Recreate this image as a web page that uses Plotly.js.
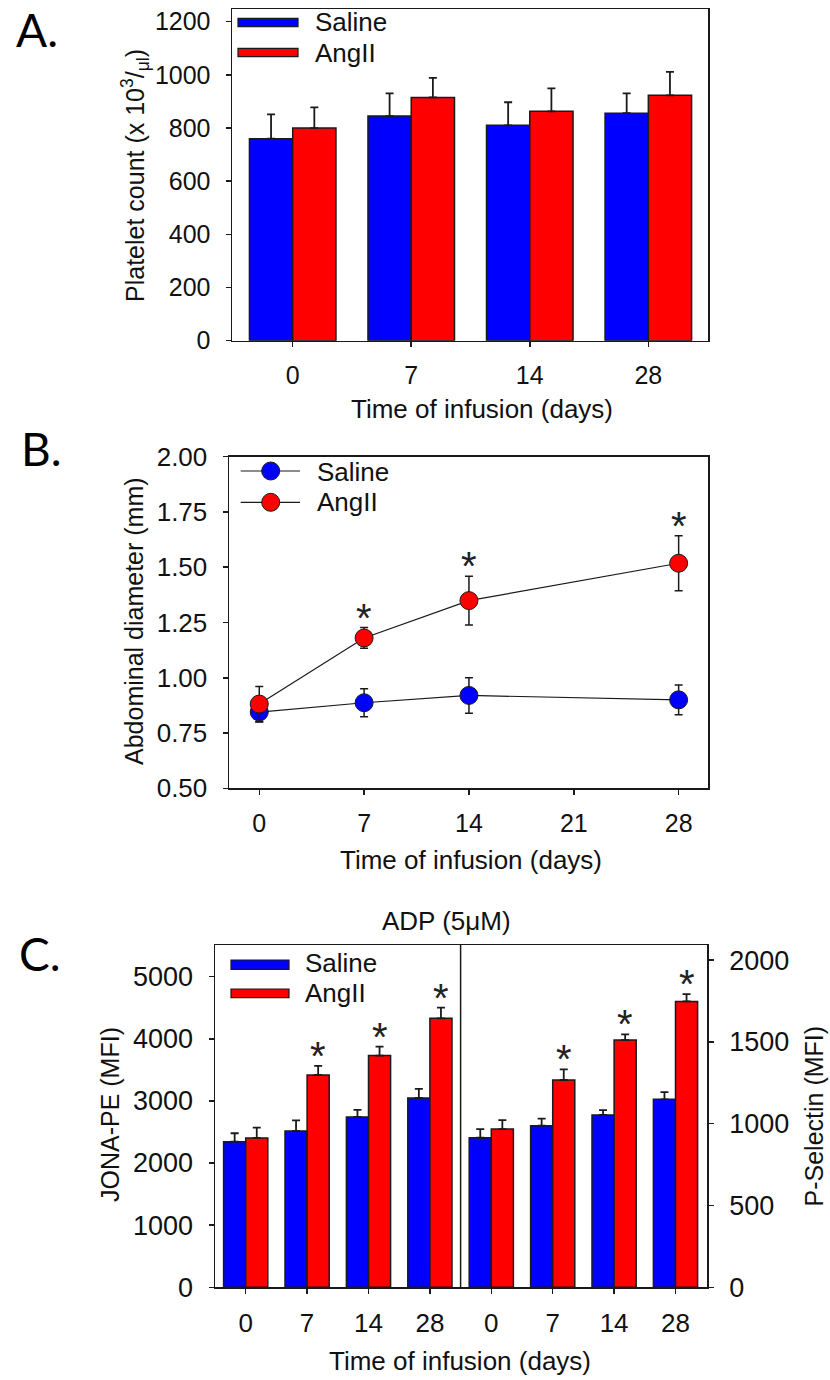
<!DOCTYPE html>
<html>
<head>
<meta charset="utf-8">
<script src="https://cdn.plot.ly/plotly-3.0.1.min.js"></script>
<style>html,body{margin:0;padding:0;background:#fff;}#chart{width:830px;height:1380px;}</style>
</head>
<body>
<div id="chart"></div>
<script>
// ---------- Data ----------
// Panel A: platelet count
const daysA = ['0', '7', '14', '28'];
const salineA = [760, 845, 810, 856];
const salineAErr = [91, 85, 87, 74];
const angA = [800, 915, 863, 923];
const angAErr = [78, 74, 86, 88];

// Panel B: abdominal diameter
const daysB = [0, 7, 14, 28];
const salineB = [0.845, 0.887, 0.92, 0.90];
const salineBErr = [0.045, 0.063, 0.08, 0.067];
const angB = [0.881, 1.18, 1.349, 1.518];
const angBErr = [0.08, 0.047, 0.11, 0.124];
const sigB = [false, true, true, true];
const ticksB = [0, 7, 14, 21, 28];

// Panel C: ADP (5uM) activation
const daysC = ['0', '7', '14', '28'];
const jonaSaline = [2344, 2516, 2741, 3048];
const jonaSalineErr = [135, 172, 113, 145];
const jonaAng = [2404, 3418, 3729, 4329];
const jonaAngErr = [166, 145, 145, 172];
const pselSaline = [914, 988, 1053, 1149];
const pselSalineErr = [53, 43, 30, 44];
const pselAng = [967, 1267, 1511, 1747];
const pselAngErr = [55, 65, 35, 45];
const sigJona = [false, true, true, true];
const sigPsel = [false, true, true, true];

// ---------- helpers ----------
const W = 830, H = 1380;
const px = v => v / W;
const py = v => 1 - v / H;
const FONT = 'Liberation Sans, Arial, sans-serif';
const BLUE = '#0000FF', RED = '#FF0000', INK = '#1a1a1a';
const zeros = a => a.map(() => 0);

const idxA = daysA.map((_, i) => i);
const idxCL = daysC.map((_, i) => i);
const idxCR = daysC.map((_, i) => i + daysC.length);

function barTrace(x, y, err, color, w, off, xa, ya) {
  return {
    type: 'bar', x: x, y: y, width: w, offset: off,
    xaxis: xa, yaxis: ya, showlegend: false, hoverinfo: 'skip',
    marker: {color: color, line: {color: INK, width: 1.5}},
    error_y: {type: 'data', array: err, arrayminus: zeros(err), symmetric: false,
              color: INK, thickness: 1.8, width: 4}
  };
}

const wA = 0.365, wC = 0.36;
const traces = [
  barTrace(idxA, salineA, salineAErr, BLUE, wA, -wA, 'x', 'y'),
  barTrace(idxA, angA, angAErr, RED, wA, 0, 'x', 'y'),
  {
    type: 'scatter', mode: 'lines+markers', x: daysB, y: salineB, xaxis: 'x2', yaxis: 'y2',
    showlegend: false, hoverinfo: 'skip',
    line: {color: INK, width: 1.2},
    marker: {color: BLUE, size: 18, line: {color: INK, width: 1}},
    error_y: {type: 'data', array: salineBErr, color: INK, thickness: 1.5, width: 4}
  },
  {
    type: 'scatter', mode: 'lines+markers', x: daysB, y: angB, xaxis: 'x2', yaxis: 'y2',
    showlegend: false, hoverinfo: 'skip',
    line: {color: INK, width: 1.2},
    marker: {color: RED, size: 18, line: {color: INK, width: 1}},
    error_y: {type: 'data', array: angBErr, color: INK, thickness: 1.5, width: 4}
  },
  barTrace(idxCL, jonaSaline, jonaSalineErr, BLUE, wC, -wC, 'x3', 'y3'),
  barTrace(idxCL, jonaAng, jonaAngErr, RED, wC, 0, 'x3', 'y3'),
  barTrace(idxCR, pselSaline, pselSalineErr, BLUE, wC, -wC, 'x3', 'y4'),
  barTrace(idxCR, pselAng, pselAngErr, RED, wC, 0, 'x3', 'y4')
];

function axisBase(extra) {
  return Object.assign({
    showline: true, linecolor: INK, linewidth: 1.5, mirror: true,
    ticks: 'outside', ticklen: 5, tickwidth: 1.5, tickcolor: INK,
    showgrid: false, zeroline: false, fixedrange: true,
    tickfont: {family: FONT, size: 25, color: '#111'}
  }, extra);
}

const layout = {
  width: W, height: H, autosize: false,
  margin: {l: 0, r: 0, t: 0, b: 0, pad: 0},
  paper_bgcolor: '#fff', plot_bgcolor: '#fff',
  showlegend: false, barmode: 'overlay',
  font: {family: FONT, color: '#111'},
  xaxis: axisBase({domain: [px(232), px(708.3)], anchor: 'y', range: [-0.512, 3.506],
    tickmode: 'array', tickvals: idxA, ticktext: daysA, ticklabelstandoff: 7}),
  yaxis: axisBase({domain: [py(340.7), py(9.3)], anchor: 'x', range: [0, 1246.6],
    tickmode: 'array', tickvals: [0, 200, 400, 600, 800, 1000, 1200], ticklabelstandoff: 10}),
  xaxis2: axisBase({domain: [px(229), px(708.3)], anchor: 'y2', range: [-2.02, 29.98],
    tickmode: 'array', tickvals: ticksB, ticklabelstandoff: 7}),
  yaxis2: axisBase({domain: [py(788.3), py(456.7)], anchor: 'x2', range: [0.5, 2.0],
    tickmode: 'array', tickvals: [0.5, 0.75, 1.0, 1.25, 1.5, 1.75, 2.0], tickformat: '.2f',
    ticklabelstandoff: 10, tickfont: {family: FONT, size: 26, color: '#111'}}),
  xaxis3: axisBase({domain: [px(215), px(707.3)], anchor: 'y3', range: [-0.5, 7.518],
    tickmode: 'array', tickvals: idxCL.concat(idxCR), ticktext: daysC.concat(daysC),
    ticklabelstandoff: 7, tickfont: {family: FONT, size: 26, color: '#111'}}),
  yaxis3: axisBase({domain: [py(1287.3), py(945)], anchor: 'x3', range: [0, 5509], mirror: false,
    tickmode: 'array', tickvals: [0, 1000, 2000, 3000, 4000, 5000], ticklabelstandoff: 10,
    tickfont: {family: FONT, size: 27, color: '#111'}}),
  yaxis4: axisBase({overlaying: 'y3', side: 'right', anchor: 'x3', range: [0, 2092], mirror: false,
    tickmode: 'array', tickvals: [0, 500, 1000, 1500, 2000], ticklabelstandoff: 10,
    tickfont: {family: FONT, size: 27, color: '#111'}}),
  shapes: [],
  annotations: []
};

const ann = layout.annotations, shp = layout.shapes;
function txt(text, x, y, size, opts) {
  ann.push(Object.assign({text: text, x: px(x), y: py(y), xref: 'paper', yref: 'paper',
    showarrow: false, xanchor: 'center', yanchor: 'middle',
    font: {family: FONT, size: size, color: '#111'}}, opts || {}));
}

// panel letters
const LET = 'Lato, Open Sans, sans-serif';
txt('A.', 37, 29, 46, {font: {family: LET, size: 46, color: '#000'}});
txt('B.', 41, 449, 46, {font: {family: LET, size: 46, color: '#000'}});
txt('C.', 40, 953, 46, {font: {family: LET, size: 46, color: '#000'}});

// axis titles
txt('Platelet count (x 10<sup>3</sup>/<sub>μl</sub>)', 135, 176, 25, {textangle: -90});
txt('Time of infusion (days)', 482, 409, 26);
txt('Abdominal diameter (mm)', 134, 621, 25, {textangle: -90});
txt('Time of infusion (days)', 470.5, 860, 26);
txt('ADP (5μM)', 446.5, 920.5, 26);
txt('JONA-PE (MFI)', 110, 1115, 25, {textangle: -90});
txt('P-Selectin (MFI)', 813, 1116.5, 25, {textangle: -90});
txt('Time of infusion (days)', 460, 1361, 26);

// legends
function swatch(x0, x1, y0, y1, color) {
  shp.push({type: 'rect', xref: 'paper', yref: 'paper', x0: px(x0), x1: px(x1), y0: py(y1), y1: py(y0),
    fillcolor: color, line: {color: INK, width: 1.2}});
}
swatch(238, 298, 18.3, 26.7, BLUE);
swatch(238, 298, 48.3, 56.7, RED);
txt('Saline', 313, 22.5, 26, {xanchor: 'left'});
txt('AngII', 313, 52.5, 26, {xanchor: 'left'});

function lineMarker(yc, color) {
  shp.push({type: 'line', xref: 'paper', yref: 'paper', x0: px(240.7), x1: px(300), y0: py(yc), y1: py(yc),
    line: {color: INK, width: 1.2}});
  shp.push({type: 'circle', xref: 'paper', yref: 'paper', x0: px(270.7 - 9), x1: px(270.7 + 9),
    y0: py(yc + 9), y1: py(yc - 9), fillcolor: color, line: {color: INK, width: 1}});
}
lineMarker(471, BLUE);
lineMarker(502.3, RED);
txt('Saline', 315, 472, 26, {xanchor: 'left'});
txt('AngII', 315, 502, 26, {xanchor: 'left'});

swatch(231, 289, 960, 969.3, BLUE);
swatch(231, 289, 989, 997.7, RED);
txt('Saline', 302.7, 963.3, 26, {xanchor: 'left'});
txt('AngII', 302.7, 993.3, 26, {xanchor: 'left'});

// divider in panel C
shp.push({type: 'line', xref: 'x3', yref: 'y3 domain', x0: 3.5, x1: 3.5, y0: 0, y1: 1,
  line: {color: INK, width: 1.5}});

// significance stars
function star(x, y, xa, ya) {
  ann.push({text: '*', x: x, y: y, xref: xa, yref: ya, showarrow: false,
    xanchor: 'center', yanchor: 'bottom', yshift: -14,
    font: {family: FONT, size: 40, color: '#222'}});
}
daysB.forEach((d, i) => { if (sigB[i]) star(d, angB[i] + angBErr[i], 'x2', 'y2'); });
idxCL.forEach((x, i) => { if (sigJona[i]) star(x + wC / 2, jonaAng[i] + jonaAngErr[i], 'x3', 'y3'); });
idxCR.forEach((x, i) => { if (sigPsel[i]) star(x + wC / 2, pselAng[i] + pselAngErr[i], 'x3', 'y4'); });

Plotly.newPlot('chart', traces, layout, {staticPlot: true, displayModeBar: false});
</script>
</body>
</html>
